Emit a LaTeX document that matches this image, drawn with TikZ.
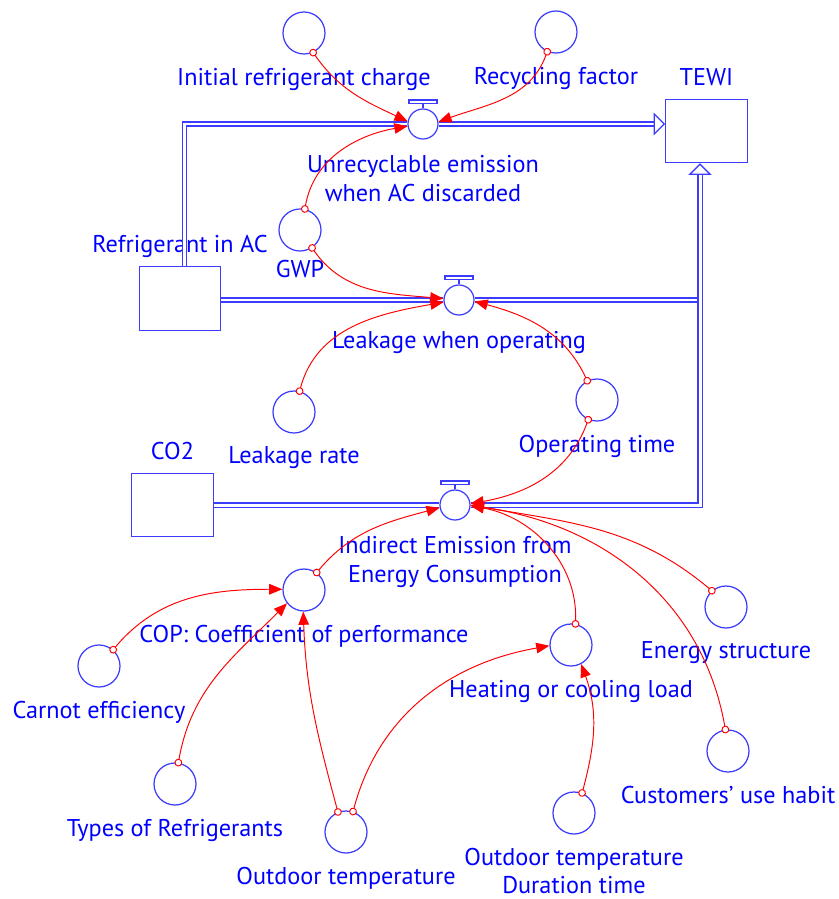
\documentclass[tikz,border=0pt]{standalone}
\usepackage{fontspec}
\setmainfont{PT Sans}
\usetikzlibrary{arrows.meta,positioning}
\definecolor{vtext}{RGB}{0,0,255}
\definecolor{vline}{RGB}{60,60,255}
\definecolor{vred}{RGB}{255,0,0}
\tikzset{
    aux/.style={circle, draw=vline, line width=0.7pt, fill=white, minimum size=0.84cm, inner sep=0pt},
    valve/.style={circle, draw=vline, line width=0.7pt, fill=white, minimum size=0.6cm, inner sep=0pt},
    stock/.style={rectangle, draw=vline, line width=0.8pt, minimum width=1.63cm, minimum height=1.27cm, inner sep=0pt},
    pipe/.style={draw=vline, line width=0.7pt, double=white, double distance=1.7pt},
    flowin/.style={-{Triangle[open, fill=white, length=6.5pt, width=13pt]}},
    link/.style={draw=vred, line width=0.55pt, shorten <=-2.2pt,
        {Circle[open, fill=white, length=4.4pt]}-{Triangle[length=7.5pt, width=6pt]}},
    every label/.style={text=vtext, align=center, font=\fontsize{13.8}{16.4}\selectfont}
}

\begin{document}
\begin{tikzpicture}[label distance=4pt]
  \useasboundingbox (0,0) rectangle (16.78,-17.98);

  % stocks
  \node[stock, label={[name=tewi-t, yshift=-0.5pt]above:TEWI}] (tewi) at (14.13,-2.62) {};
  \node[stock, label={[name=refr-t, yshift=-2.5pt]above:Refrigerant in AC}] (refr) at (3.6,-5.97) {};
  \node[stock, label={[name=co2-t, yshift=-0.5pt]above:CO2}] (co2) at (3.45,-10.1) {};

  % valves
  \node[valve, label={[name=unrec-t, yshift=-1.5pt]below:Unrecyclable emission\\when AC discarded}] (unrec) at (8.46,-2.48) {};
  \node[valve, label={[name=leak-t, yshift=-1.5pt]below:Leakage when operating}] (leak) at (9.18,-6.0) {};
  \node[valve, label={[name=indir-t, yshift=-1.5pt]below:Indirect Emission from\\Energy Consumption}] (indir) at (9.1,-10.1) {};
  \foreach \v in {unrec,leak,indir}
    \draw[draw=vline, line width=0.7pt] (\v.north) -- ++(0,0.1) ++(-0.28,0) rectangle ++(0.56,0.07);

  % auxiliaries
  \node[aux, label={[name=init-t]below:Initial refrigerant charge}] (init) at (6.08,-0.66) {};
  \node[aux, label={[name=recyc-t]below:Recycling factor}] (recyc) at (11.12,-0.64) {};
  \node[aux, label={[name=gwp-t, yshift=2.5pt]below:GWP}] (gwp) at (6.0,-4.6) {};
  \node[aux, label={[name=lrate-t]below:Leakage rate}] (lrate) at (5.88,-8.24) {};
  \node[aux, label={[name=optime-t]below:Operating time}] (optime) at (11.94,-8.0) {};
  \node[aux, label={[name=cop-t]below:{COP: Coefficient of performance}}] (cop) at (6.08,-11.8) {};
  \node[aux, label={[name=carnot-t]below:Carnot efficiency}] (carnot) at (1.98,-13.32) {};
  \node[aux, label={[name=types-t]below:Types of Refrigerants}] (types) at (3.5,-15.68) {};
  \node[aux, label={[name=outtemp-t]below:Outdoor temperature}] (outtemp) at (6.92,-16.64) {};
  \node[aux, label={[name=load-t]below:Heating or cooling load}] (load) at (11.42,-12.9) {};
  \node[aux, label={[name=durat-t]below:Outdoor temperature\\Duration time}] (durat) at (11.48,-16.26) {};
  \node[aux, label={[name=estruc-t]below:Energy structure}] (estruc) at (14.52,-12.14) {};
  \node[aux, label={[name=habit-t]below:Customers’ use habit}] (habit) at (14.56,-15.02) {};

  % flows
  \draw[pipe] ([xshift=0.09cm]refr.north) |- (unrec.west);
  \draw[pipe, flowin] (unrec.east) -- (unrec.east -| tewi.west);
  \draw[pipe] (refr.east |- leak.west) -- (leak.west);
  \draw[pipe, flowin] (leak.east) -| ([xshift=-0.13cm]tewi.south);
  \draw[pipe] (co2.east |- indir.west) -- (indir.west);
  \draw[pipe, flowin] (indir.east) -| ([xshift=-0.13cm]tewi.south);

  % links
  \draw[link] (init.-65) to[out=-55, in=155] (unrec.170);
  \draw[link] (recyc.-114) to[out=-110, in=20] (unrec.8);
  \draw[link] (gwp.77) to[out=80, in=190] (unrec.188);
  \draw[link] (gwp.-56) to[out=-55, in=175] (leak.175);
  \draw[link] (lrate.75) to[out=75, in=190] (leak.188);
  \draw[link] (optime.117) to[out=115, in=-15] (leak.-5);
  \draw[link] (optime.-114) to[out=-110, in=10] (indir.5);
  \draw[link] (cop.54) to[out=50, in=195] (indir.190);
  \draw[link] (load.78) to[out=88, in=-10] (indir.-3);
  \draw[link] (estruc.131) to[out=140, in=-10] (indir.0);
  \draw[link] (habit.97) to[out=100, in=-8] (indir.-2);
  \draw[link] (carnot.49) to[out=50, in=180] (cop.178);
  \draw[link] (types.81) to[out=80, in=-135] (cop.218);
  \draw[link] (outtemp.112) to[out=105, in=-88] (cop.-92);
  \draw[link] (outtemp.71) to[out=75, in=190] (load.182);
  \draw[link] (durat.68) to[out=75, in=-70] (load.-62);
\end{tikzpicture}
\end{document}
